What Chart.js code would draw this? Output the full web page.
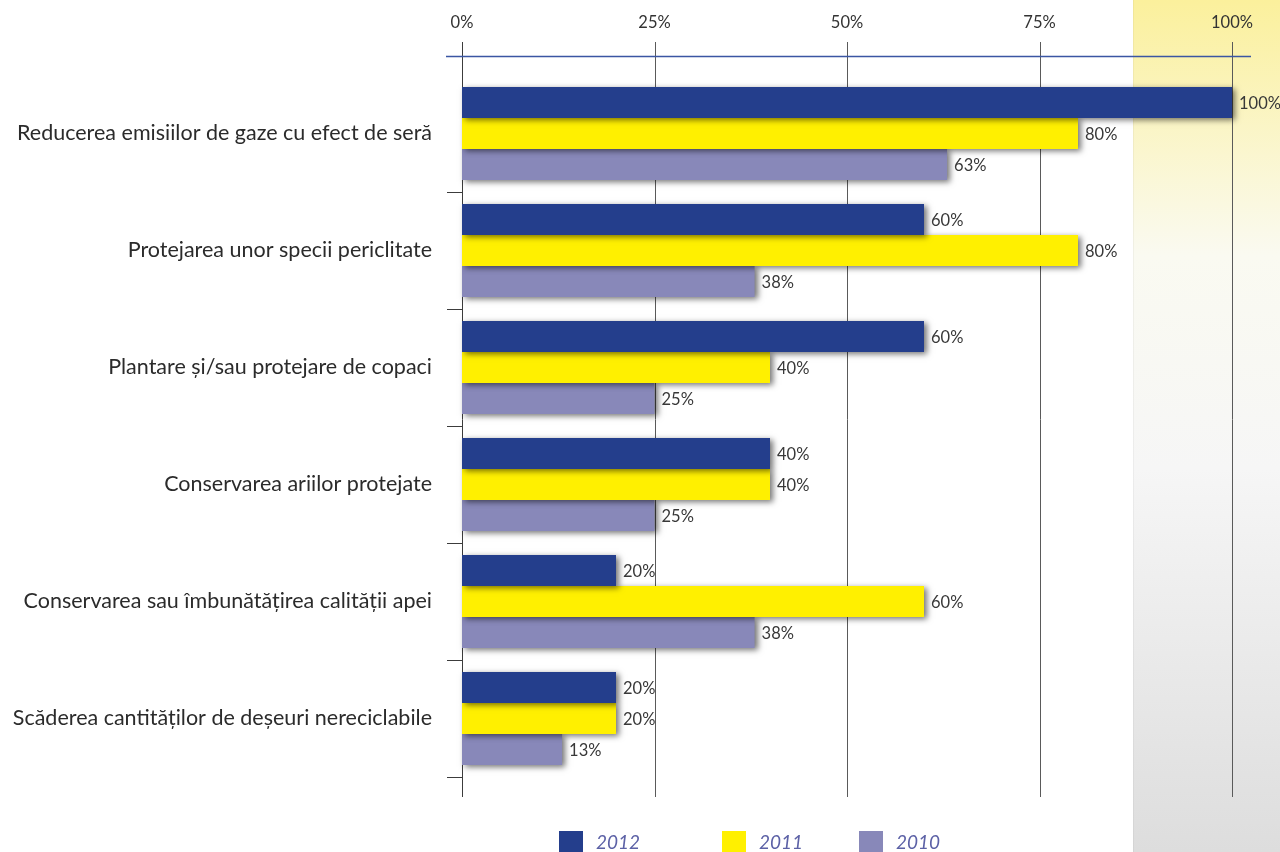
<!DOCTYPE html>
<html lang="ro">
<head>
<meta charset="utf-8">
<title>Obiective de mediu</title>
<script src="https://cdn.jsdelivr.net/npm/chart.js@4"></script>
<style>
  html, body { margin: 0; padding: 0; background: #fff; }
  canvas { display: block; }
</style>
</head>
<body>
<canvas id="barChart" width="1280" height="852"></canvas>
<script>
const categories = [
  'Reducerea emisiilor de gaze cu efect de seră',
  'Protejarea unor specii periclitate',
  'Plantare și/sau protejare de copaci',
  'Conservarea ariilor protejate',
  'Conservarea sau îmbunătățirea calității apei',
  'Scăderea cantităților de deșeuri nereciclabile'
];
const years = ['2012', '2011', '2010'];
const values2012 = [100, 60, 60, 40, 20, 20];
const values2011 = [80, 80, 40, 40, 60, 20];
const values2010 = [63, 38, 25, 25, 38, 13];
const xTicks = [0, 25, 50, 75, 100];

const colors = ['#243e8c', '#fff000', '#8888b9'];
const fontFamily = 'Lato, "Open Sans", sans-serif';

// light yellow-to-grey band on the right edge
const sidePanel = {
  id: 'sidePanel',
  beforeDraw(chart) {
    const ctx = chart.ctx;
    const x0 = 1133;
    const g = ctx.createLinearGradient(0, 0, 0, chart.height);
    g.addColorStop(0, '#fbf09c');
    g.addColorStop(0.3, '#fafaf1');
    g.addColorStop(0.55, '#f6f6f6');
    g.addColorStop(1, '#dddddd');
    ctx.save();
    ctx.fillStyle = g;
    ctx.fillRect(x0, 0, chart.width - x0, chart.height);
    ctx.fillStyle = 'rgba(0,0,0,0.04)';
    ctx.fillRect(x0, 0, 1, chart.height);
    ctx.restore();
  }
};

// vertical grid lines that run past the plot area, plus the blue top axis line
const gridLines = {
  id: 'gridLines',
  beforeDatasetsDraw(chart) {
    const ctx = chart.ctx;
    const x = chart.scales.x;
    ctx.save();
    ctx.lineWidth = 1;
    xTicks.forEach(v => {
      const px = Math.round(x.getPixelForValue(v)) + 0.5;
      ctx.strokeStyle = v === 0 ? '#3c3c3c' : '#5a5a5a';
      ctx.beginPath();
      ctx.moveTo(px, 42);
      ctx.lineTo(px, 797);
      ctx.stroke();
    });
    ctx.strokeStyle = '#3b56a3';
    ctx.lineWidth = 1.5;
    ctx.beginPath();
    ctx.moveTo(446, 56.5);
    ctx.lineTo(1251, 56.5);
    ctx.stroke();
    ctx.restore();
  }
};

// soft drop shadow under each bar
const barShadow = {
  id: 'barShadow',
  beforeDatasetDraw(chart) {
    const ctx = chart.ctx;
    ctx.save();
    ctx.shadowColor = 'rgba(0,0,0,0.55)';
    ctx.shadowBlur = 6;
    ctx.shadowOffsetX = 3;
    ctx.shadowOffsetY = 2;
  },
  afterDatasetDraw(chart) {
    chart.ctx.restore();
  }
};

// percentage next to the end of each bar
const valueLabels = {
  id: 'valueLabels',
  afterDatasetsDraw(chart) {
    const ctx = chart.ctx;
    ctx.save();
    ctx.font = '16.5px ' + fontFamily;
    ctx.fillStyle = '#383838';
    ctx.textAlign = 'left';
    ctx.textBaseline = 'middle';
    chart.data.datasets.forEach((ds, i) => {
      chart.getDatasetMeta(i).data.forEach((bar, j) => {
        ctx.fillText(ds.data[j] + '%', bar.x + 7, bar.y + 1);
      });
    });
    ctx.restore();
  }
};

// legend along the bottom edge
const bottomLegend = {
  id: 'bottomLegend',
  afterDraw(chart) {
    const ctx = chart.ctx;
    const xs = [559, 722, 859];
    ctx.save();
    ctx.font = 'italic 19px ' + fontFamily;
    ctx.textBaseline = 'middle';
    chart.data.datasets.forEach((ds, i) => {
      ctx.fillStyle = ds.backgroundColor;
      ctx.fillRect(xs[i], 831, 24, 21);
      ctx.fillStyle = '#5c61a6';
      ctx.fillText(ds.label, xs[i] + 37, 843);
    });
    ctx.restore();
  }
};

const ctx = document.getElementById('barChart').getContext('2d');
new Chart(ctx, {
  type: 'bar',
  data: {
    labels: categories,
    datasets: [
      { label: years[0], data: values2012, backgroundColor: colors[0] },
      { label: years[1], data: values2011, backgroundColor: colors[1] },
      { label: years[2], data: values2010, backgroundColor: colors[2] }
    ]
  },
  options: {
    indexAxis: 'y',
    responsive: false,
    animation: false,
    layout: { padding: { left: 0, right: 48, top: 0, bottom: 75 } },
    datasets: {
      bar: { barPercentage: 1, categoryPercentage: 0.795, borderWidth: 0, clip: false }
    },
    scales: {
      x: {
        position: 'top',
        min: 0,
        max: 100,
        afterFit: s => {
          s.height = 75;
          s.paddingLeft = 0;
          s.paddingRight = 0;
        },
        afterBuildTicks: s => { s.ticks = xTicks.map(v => ({ value: v })); },
        grid: { display: false, drawTicks: false },
        border: { display: false },
        ticks: {
          padding: 42,
          color: '#333',
          font: { family: fontFamily, size: 16.5 },
          callback: v => v + '%'
        }
      },
      y: {
        afterFit: s => {
          s.width = 462;
          s.paddingTop = 0;
          s.paddingBottom = 0;
        },
        grid: {
          offset: true,
          drawOnChartArea: false,
          tickLength: 15,
          lineWidth: 1,
          color: c => (c.index === 0 ? 'rgba(0,0,0,0)' : '#3c3c3c')
        },
        border: { display: false },
        ticks: {
          padding: 15,
          color: '#2b2b2b',
          font: { family: fontFamily, size: 21.5 }
        }
      }
    },
    plugins: {
      legend: { display: false },
      tooltip: { enabled: false }
    }
  },
  plugins: [sidePanel, gridLines, barShadow, valueLabels, bottomLegend]
});
</script>
</body>
</html>
